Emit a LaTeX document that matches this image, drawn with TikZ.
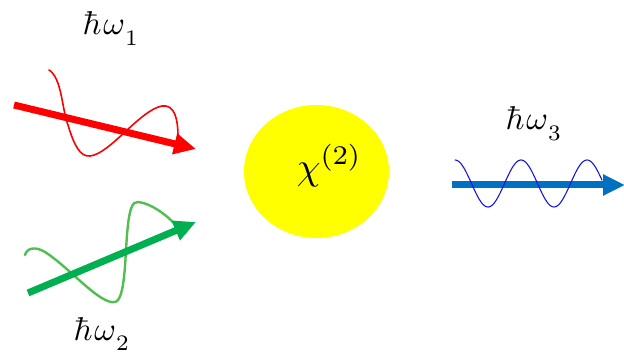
\documentclass[tikz,border=0pt]{standalone}
\usetikzlibrary{arrows.meta,shapes.geometric}
\definecolor{beamred}{RGB}{255,0,0}
\definecolor{beamgreen}{RGB}{0,176,80}
\definecolor{wavegreen}{RGB}{80,190,80}
\definecolor{beamblue}{RGB}{0,112,192}
\definecolor{waveblue}{RGB}{20,20,235}
\definecolor{crystal}{RGB}{255,255,0}
\tikzset{
  beam/.style={line width=7pt,-{Triangle[length=22pt,width=20pt]}},
  wave/.style={line cap=round,line join=round},
  lbl/.style={font=\normalsize,scale=3.3,inner sep=0pt,anchor=base west}
}
\newcommand{\hw}[1]{$\hbar\mkern1mu\omega$\raisebox{-3.3pt}{\fontsize{6.7}{8}\selectfont #1}}
\begin{document}
\begin{tikzpicture}[x=1pt,y=-1pt]
\useasboundingbox (0,0) rectangle (624,358);
% labels
\node[lbl] (l1) at (82,35) {\hw{1}};
\node[lbl] (l2) at (73,340) {\hw{2}};
\node[lbl] (l3) at (505,130) {\hw{3}};
% crystal
\node[ellipse,fill=crystal,minimum width=145pt,minimum height=133pt,inner sep=0pt] (chi) at (316.5,171.5) {};
\node[font=\normalsize,scale=3.8,inner sep=0pt,anchor=base west] (chit) at (296,180) {$\chi$\raisebox{4.2pt}{\fontsize{7.1}{8}\selectfont(2)}};
% red wave and beam
\draw[beamred,line width=1.6pt,wave] (49,70) .. controls (62,78) and (62,110) .. (68,125) .. controls (74,145) and (80,157) .. (90,156) .. controls (110,154) and (140,110) .. (162,106) .. controls (175,104) and (178,120) .. (178,137);
\coordinate (r0) at (14,105);
\coordinate (r1) at (196,149);
\draw[beamred,beam] (r0) -- (r1);
% green wave and beam
\draw[wavegreen,line width=2.4pt,wave] (25,255) .. controls (27,248) and (35,246) .. (45,252) .. controls (70,268) and (100,305) .. (115,302) .. controls (125,300) and (125,260) .. (127,235) .. controls (129,210) and (132,201) .. (138,202) .. controls (150,203) and (168,215) .. (178,228);
\coordinate (g0) at (28,293);
\coordinate (g1) at (196,222);
\draw[beamgreen,beam] (g0) -- (g1);
% blue beam and wave
\coordinate (b0) at (452,185);
\coordinate (b1) at (625,185);
\draw[beamblue,beam] (b0) -- (b1);
\draw[waveblue,line width=1.1pt,wave] plot[domain=0:147,samples=120] ({455+\x},{183.5-23.5*cos(\x*5.4545)});
\end{tikzpicture}
\end{document}
